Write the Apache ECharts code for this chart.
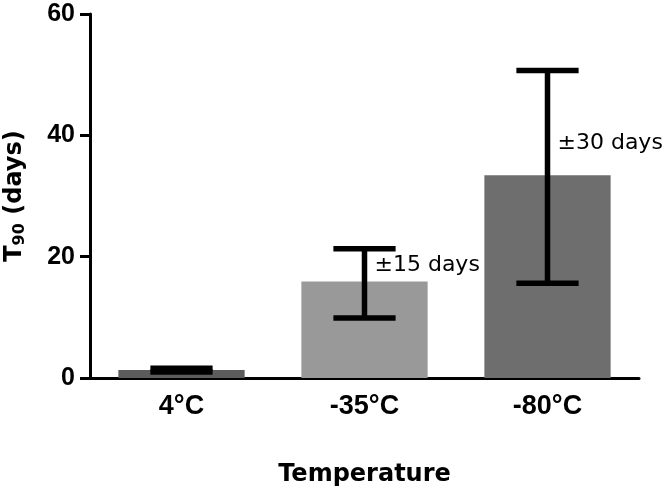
<!DOCTYPE html>
<html>
<head>
<meta charset="utf-8">
<script src="https://cdn.jsdelivr.net/npm/echarts@6/dist/echarts.min.js"></script>
<style>html,body{margin:0;padding:0;background:#fff}#c{width:666px;height:491px}</style>
</head>
<body>
<div id="c"></div>
<script>
var categories = ['4°C', '-35°C', '-80°C'];
var values = [1.3, 15.9, 33.4];
var errLow = [1.0, 9.9, 15.6];
var errHigh = [1.6, 21.3, 50.7];
var annotations = ['', '±15 days', '±30 days'];
var annotationY = [0, 18.6, 38.7];
var barColors = ['#5c5c5c', '#999999', '#6e6e6e'];
var yTicks = [0, 20, 40, 60];

var FONT = '"Liberation Sans", Arial, Helvetica, sans-serif';
var WIDE = '"DejaVu Sans", sans-serif';
var chart = echarts.init(document.getElementById('c'), null, {renderer: 'canvas'});

var errData = categories.map(function (c, i) {
  return [i, errLow[i], errHigh[i], annotationY[i]];
});

chart.setOption({
  animation: false,
  grid: {left: 90, right: 27, top: 14, bottom: 113, containLabel: false, outerBoundsMode: 'none'},
  xAxis: {
    type: 'category',
    data: categories,
    name: 'Temperature',
    nameLocation: 'middle',
    nameGap: 85,
    nameTextStyle: {fontFamily: WIDE, fontWeight: 'bold', fontSize: 24, color: '#000'},
    axisLine: {lineStyle: {color: '#000', width: 3}},
    axisTick: {alignWithLabel: true, length: 9, lineStyle: {color: '#000', width: 3}},
    axisLabel: {fontFamily: FONT, fontWeight: 'bold', fontSize: 27, color: '#000', margin: 15},
    splitLine: {show: false}
  },
  yAxis: {
    type: 'value',
    min: 0, max: 60, interval: 20,
    name: '{t|T}{s|90}{t| (days)}',
    nameLocation: 'middle',
    nameGap: 62,
    nameRotate: 90,
    nameTextStyle: {
      rich: {
        t: {fontFamily: WIDE, fontWeight: 'bold', fontSize: 24, color: '#000'},
        s: {fontFamily: WIDE, fontWeight: 'bold', fontSize: 16, color: '#000', verticalAlign: 'bottom', padding: [10, 0, 0, 0]}
      }
    },
    axisLine: {show: true, lineStyle: {color: '#000', width: 3}},
    axisTick: {show: true, length: 10, lineStyle: {color: '#000', width: 3}},
    axisLabel: {fontFamily: FONT, fontWeight: 'bold', fontSize: 25, color: '#000', margin: 15,
      formatter: function (v) { return yTicks.indexOf(v) >= 0 ? String(v) : ''; }},
    splitLine: {show: false}
  },
  series: [
    {
      type: 'bar',
      barWidth: '69%',
      data: values.map(function (v, i) { return {value: v, itemStyle: {color: barColors[i]}}; }),
      z: 2
    },
    {
      type: 'custom',
      data: errData,
      z: 5,
      renderItem: function (params, api) {
        var x = api.value(0);
        var lo = api.coord([x, api.value(1)]);
        var hi = api.coord([x, api.value(2)]);
        var catW = api.size([1, 0])[0];
        var half = catW * 0.17;
        var style = {stroke: '#000', lineWidth: 5.5};
        var children = [
          {type: 'line', shape: {x1: hi[0], y1: hi[1], x2: lo[0], y2: lo[1]}, style: style},
          {type: 'line', shape: {x1: hi[0] - half, y1: hi[1], x2: hi[0] + half, y2: hi[1]}, style: style},
          {type: 'line', shape: {x1: lo[0] - half, y1: lo[1], x2: lo[0] + half, y2: lo[1]}, style: style}
        ];
        var txt = annotations[params.dataIndex];
        if (txt) {
          var tp = api.coord([x, api.value(3)]);
          children.push({type: 'text', style: {text: txt, x: tp[0] + 10, y: tp[1], fill: '#000',
            font: '22px ' + WIDE, verticalAlign: 'middle', align: 'left'}});
        }
        return {type: 'group', children: children};
      }
    }
  ]
});
</script>
</body>
</html>
